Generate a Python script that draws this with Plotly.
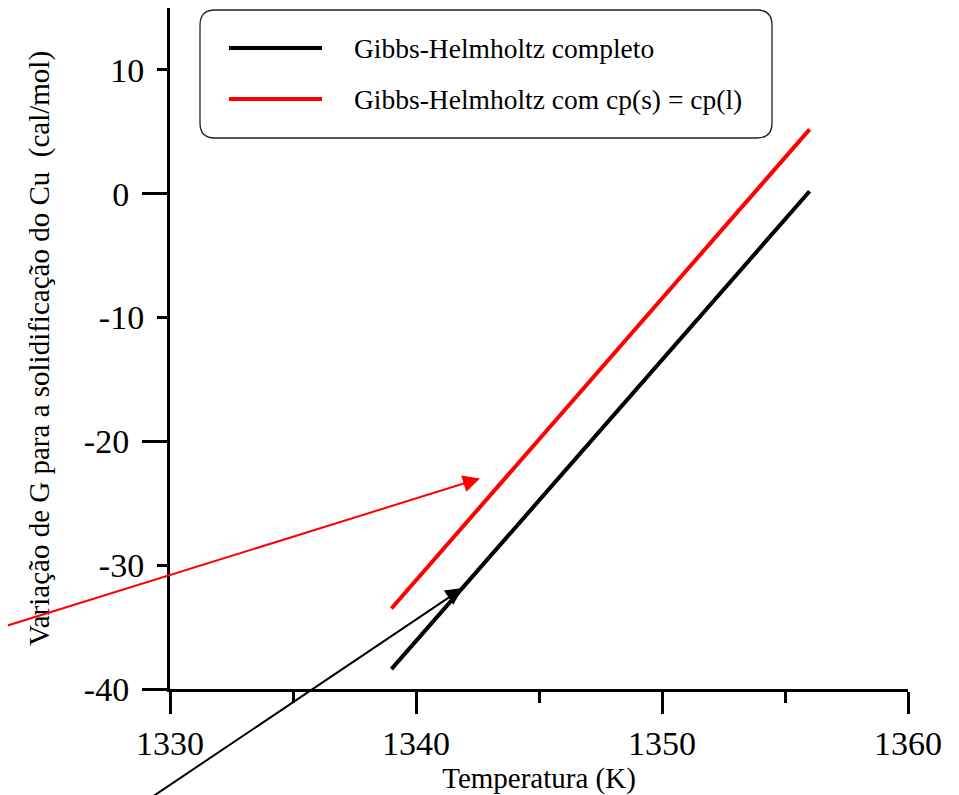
import plotly.graph_objects as go

# ---- data ----
temp_completo = [1339.0, 1356.0]
dg_completo = [-38.4, 0.2]
temp_cp_igual = [1339.0, 1356.0]
dg_cp_igual = [-33.5, 5.2]

name_completo = "Gibbs-Helmholtz completo"
name_cp_igual = "Gibbs-Helmholtz com cp(s) = cp(l)"

x_title = "Temperatura (K)"
y_title = "Variação de G para a solidificação do Cu\u00a0 (cal/mol)"

x_ticks = [1330, 1340, 1350, 1360]
y_ticks_major = [-40, -20, 0]
y_ticks_minor = [-30, -10, 10]

# arrow annotations: head (x, y) and tail (ax, ay) in data units
red_arrow_head = (1342.6, -23.0)
red_arrow_tail = (1321.9, -35.8)
black_arrow_head = (1341.9, -31.85)
black_arrow_tail = (1328.8, -49.35)

X_RANGE = [1330, 1360]
Y_RANGE = [-40, 15]

FONT = "Liberation Serif, Times New Roman, Times, serif"

fig = go.Figure()
fig.add_trace(go.Scatter(x=temp_completo, y=dg_completo, mode="lines",
                         line=dict(color="black", width=4),
                         name=name_completo, showlegend=False, hoverinfo="skip"))
fig.add_trace(go.Scatter(x=temp_cp_igual, y=dg_cp_igual, mode="lines",
                         line=dict(color="#ff0000", width=4),
                         name=name_cp_igual, showlegend=False, hoverinfo="skip",
                         yaxis="y2"))

# page offset (body margin) and plot area in page pixels
OFF = 8
W, H = 951, 787
L, T = 170 - OFF, 0
pw = 738
ph = 689 - OFF - T
R = W - L - pw
B = H - T - ph


def px(xp):
    return (xp - OFF - L) / pw


def py(yp):
    return (T + ph - (yp - OFF)) / ph


def lab(v):
    return str(v)


# rounded legend box
x0, x1, y0, y1 = px(200), px(772), py(138), py(10)
rx, ry = 15 / pw, 15 / ph
path = (f"M {x0+rx},{y1} L {x1-rx},{y1} Q {x1},{y1} {x1},{y1-ry} "
        f"L {x1},{y0+ry} Q {x1},{y0} {x1-rx},{y0} "
        f"L {x0+rx},{y0} Q {x0},{y0} {x0},{y0+ry} "
        f"L {x0},{y1-ry} Q {x0},{y1} {x0+rx},{y1} Z")
shapes = [dict(type="path", path=path, xref="paper", yref="paper",
               line=dict(color="#222", width=1.3), fillcolor="white", layer="above")]
legend_items = [(name_completo, "black", 48), (name_cp_igual, "#ff0000", 99)]
annotations = []
for label, col, yy in legend_items:
    shapes.append(dict(type="line", xref="paper", yref="paper",
                       x0=px(229), x1=px(322), y0=py(yy), y1=py(yy),
                       line=dict(color=col, width=4), layer="above"))
    annotations.append(dict(text=label, xref="paper", yref="paper",
                            x=px(352), y=py(yy), xanchor="left", yanchor="middle",
                            showarrow=False, font=dict(family=FONT, size=27.5, color="black")))

for head, tail, col in [(red_arrow_head, red_arrow_tail, "#ff0000"),
                        (black_arrow_head, black_arrow_tail, "black")]:
    annotations.append(dict(text="", x=head[0], y=head[1], ax=tail[0], ay=tail[1],
                            xref="x", yref="y", axref="x", ayref="y",
                            showarrow=True, arrowhead=2, arrowsize=1.7,
                            arrowwidth=2, arrowcolor=col))

fig.update_layout(
    width=W, height=H,
    margin=dict(l=L, r=R, t=T, b=B),
    paper_bgcolor="white", plot_bgcolor="white",
    font=dict(family=FONT, color="black"),
    showlegend=False,
    shapes=shapes,
    annotations=annotations,
    xaxis=dict(range=X_RANGE, tickvals=x_ticks, ticktext=[lab(v) for v in x_ticks],
               ticks="outside", ticklen=22,
               tickwidth=3, tickcolor="black", showline=True, linewidth=3,
               linecolor="black", showgrid=False, zeroline=False,
               tickfont=dict(size=34, family=FONT),
               minor=dict(dtick=5, ticks="outside", ticklen=11, tickwidth=3,
                          tickcolor="black", showgrid=False),
               title=dict(text=x_title, font=dict(size=29, family=FONT), standoff=0)),
    yaxis=dict(range=Y_RANGE, tickvals=y_ticks_major, ticktext=[lab(v) for v in y_ticks_major],
               ticks="outside", ticklen=25,
               tickwidth=3, tickcolor="black", showline=True, linewidth=3,
               linecolor="black", showgrid=False, zeroline=False,
               tickfont=dict(size=34, family=FONT), ticklabelstandoff=6,
               title=dict(text=y_title, font=dict(size=29, family=FONT), standoff=26)),
    yaxis2=dict(range=Y_RANGE, overlaying="y", side="left", anchor="x",
                tickvals=y_ticks_minor, ticktext=[lab(v) for v in y_ticks_minor],
                ticks="outside", ticklen=12,
                tickwidth=3, tickcolor="black", showline=False, showgrid=False,
                zeroline=False, tickfont=dict(size=34, family=FONT),
                ticklabelstandoff=6),
)

fig.write_html("out.html")
